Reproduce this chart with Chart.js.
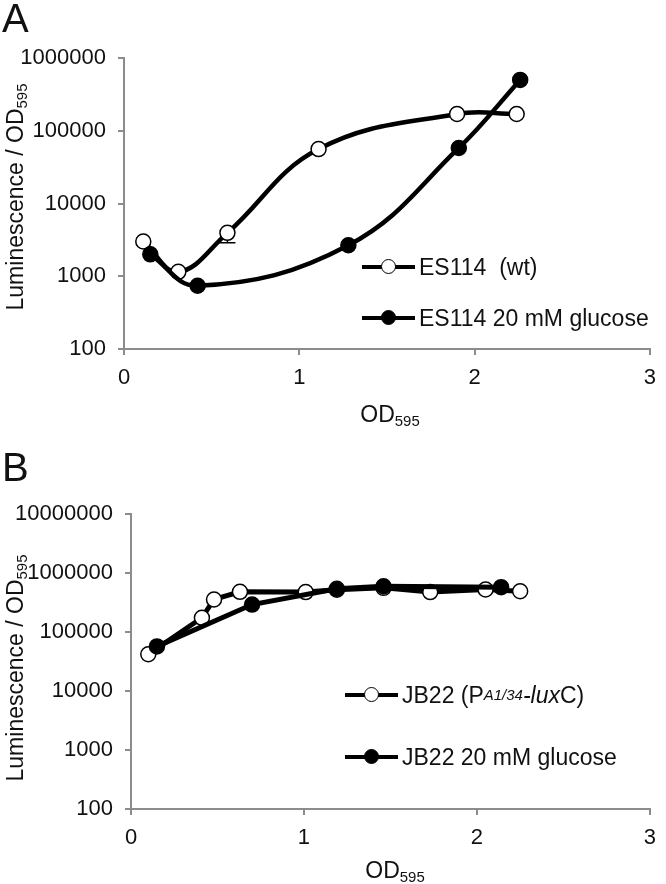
<!DOCTYPE html>
<html lang="en">
<head>
  <meta charset="UTF-8">
  <title>Luminescence vs OD595</title>
  <script src="https://cdn.jsdelivr.net/npm/chart.js"></script>
  <style>
    body { margin: 0; background: #fff; font-family: "Liberation Sans", Arial, sans-serif; color: #111; }
    #wrap { position: relative; width: 666px; height: 884px; }
    .box { position: absolute; left: 0; width: 666px; }
    .letter { position: absolute; font-size: 40px; line-height: 40px; }
    .xtitle { position: absolute; width: 200px; text-align: center; font-size: 23px; line-height: 26px; }
    .ytitle { position: absolute; width: 400px; text-align: center; font-size: 23px; line-height: 26px; transform: rotate(-90deg); }
    sub { font-size: 65%; vertical-align: -0.3em; line-height: 0; }
    .leg { position: absolute; display: flex; align-items: center; font-size: 23px; line-height: 26px; white-space: nowrap; }
    .sample { position: relative; width: 53px; height: 16px; margin-right: 4px; }
    .sample .ln { position: absolute; left: 0; right: 0; top: 6px; height: 4px; background: #000; }
    .sample .dot { position: absolute; left: 19px; top: 0; width: 13px; height: 13px; border: 1.5px solid #000; border-radius: 50%; }
    .open { background: #fff; }
    .full { background: #000; }
  </style>
</head>
<body>
<div id="wrap">
  <div class="box" style="top:0;height:440px"><canvas id="chartA" width="666" height="440"></canvas></div>
  <div class="box" style="top:440px;height:444px"><canvas id="chartB" width="666" height="444"></canvas></div>

  <div class="letter" style="left:2px;top:-2px">A</div>
  <div class="letter" style="left:2px;top:447px">B</div>

  <div class="ytitle" style="left:-185px;top:184px">Luminescence / OD<sub>595</sub></div>
  <div class="ytitle" style="left:-185px;top:655px">Luminescence / OD<sub>595</sub></div>
  <div class="xtitle" style="left:290px;top:401px">OD<sub>595</sub></div>
  <div class="xtitle" style="left:295px;top:857px">OD<sub>595</sub></div>

  <div class="leg" style="left:362px;top:254px"><div class="sample"><div class="ln"></div><div class="dot open"></div></div>ES114&nbsp; (wt)</div>
  <div class="leg" style="left:362px;top:305px"><div class="sample"><div class="ln"></div><div class="dot full"></div></div>ES114 20 mM glucose</div>
  <div class="leg" style="left:345px;top:682px"><div class="sample"><div class="ln"></div><div class="dot open"></div></div>JB22 (P<sub><i>A1/34</i></sub><i>-lux</i>C)</div>
  <div class="leg" style="left:345px;top:744px"><div class="sample"><div class="ln"></div><div class="dot full"></div></div>JB22 20 mM glucose</div>
</div>

<script>
  // panel A: ES114
  const aWtOD = [0.11, 0.31, 0.59, 1.11, 1.90, 2.24];
  const aWtLum = [3000, 1150, 3950, 56000, 170000, 170000];
  const aWtErr = [0, 0, 1060, 0, 0, 0];
  const aGluOD = [0.15, 0.42, 1.28, 1.91, 2.26];
  const aGluLum = [2000, 740, 2670, 58000, 500000];

  // panel B: JB22
  const bWtOD = [0.10, 0.41, 0.48, 0.63, 1.01, 1.19, 1.46, 1.73, 2.05, 2.25];
  const bWtLum = [42000, 174000, 356000, 480000, 475000, 520000, 560000, 475000, 525000, 490000];
  const bGluOD = [0.15, 0.70, 1.19, 1.46, 2.14];
  const bGluLum = [57000, 292000, 540000, 597000, 575000];

  const xTicks = [0, 1, 2, 3];
  const aYTicks = [100, 1000, 10000, 100000, 1000000];
  const bYTicks = [100, 1000, 10000, 100000, 1000000, 10000000];

  const axisGrey = '#8c8c8c';
  const tickFont = { family: '"Liberation Sans", Arial, sans-serif', size: 22 };

  function pts(xs, ys) {
    return xs.map((x, i) => ({ x: x, y: ys[i] }));
  }

  // minus error bars only, drawn under the markers
  const errorBars = {
    id: 'errorBars',
    beforeDatasetsDraw(chart, args, opts) {
      if (!opts.err) return;
      const ctx = chart.ctx, xs = chart.scales.x, ys = chart.scales.y;
      ctx.save();
      ctx.strokeStyle = '#000';
      ctx.lineWidth = 1.5;
      opts.err.forEach((e, i) => {
        if (!e) return;
        const px = xs.getPixelForValue(opts.xs[i]);
        const mid = ys.getPixelForValue(opts.ys[i]);
        const bot = ys.getPixelForValue(opts.ys[i] - e);
        ctx.beginPath();
        ctx.moveTo(px, mid); ctx.lineTo(px, bot);
        ctx.moveTo(px - 8, bot); ctx.lineTo(px + 8, bot);
        ctx.stroke();
      });
      ctx.restore();
    }
  };

  function makeChart(id, wt, glu, yTicks, tension, lw, pad, yWidth, xHeight, err) {
    const ctx = document.getElementById(id).getContext('2d');
    return new Chart(ctx, {
      type: 'line',
      data: {
        datasets: [{
          data: wt,
          borderColor: '#000',
          borderWidth: lw,
          backgroundColor: '#fff',
          pointBackgroundColor: '#fff',
          pointBorderColor: '#000',
          pointBorderWidth: 1.5,
          pointRadius: 7.5,
          tension: tension,
          order: 1
        }, {
          data: glu,
          borderColor: '#000',
          borderWidth: lw,
          backgroundColor: '#000',
          pointBackgroundColor: '#000',
          pointBorderColor: '#000',
          pointBorderWidth: 1.5,
          pointRadius: 7.5,
          tension: tension,
          order: 0
        }]
      },
      plugins: [errorBars],
      options: {
        responsive: false,
        animation: false,
        layout: { padding: pad },
        plugins: {
          legend: { display: false },
          tooltip: { enabled: false },
          errorBars: err || {}
        },
        scales: {
          x: {
            type: 'linear',
            min: 0,
            max: 3,
            afterBuildTicks: s => { s.ticks = xTicks.map(v => ({ value: v })); },
            afterFit: s => { s.height = xHeight; },
            border: { color: axisGrey, width: 2 },
            grid: { drawOnChartArea: false, drawTicks: true, tickLength: 6, color: axisGrey, lineWidth: 2 },
            ticks: { font: tickFont, color: '#111', padding: 10, maxRotation: 0 }
          },
          y: {
            type: 'logarithmic',
            min: yTicks[0],
            max: yTicks[yTicks.length - 1],
            afterBuildTicks: s => { s.ticks = yTicks.map(v => ({ value: v })); },
            afterFit: s => { s.width = yWidth; },
            border: { color: axisGrey, width: 2 },
            grid: { drawOnChartArea: false, drawTicks: true, tickLength: 6, color: axisGrey, lineWidth: 2 },
            ticks: { font: tickFont, color: '#111', padding: 12, callback: v => String(v) }
          }
        }
      }
    });
  }

  makeChart('chartA', pts(aWtOD, aWtLum), pts(aGluOD, aGluLum), aYTicks, 0.4, 4.5,
    { top: 58, right: 10, left: 0, bottom: 0 }, 124, 91,
    { xs: aWtOD, ys: aWtLum, err: aWtErr });
  makeChart('chartB', pts(bWtOD, bWtLum), pts(bGluOD, bGluLum), bYTicks, 0, 5,
    { top: 74, right: 6, left: 0, bottom: 0 }, 131, 75);
</script>
</body>
</html>
